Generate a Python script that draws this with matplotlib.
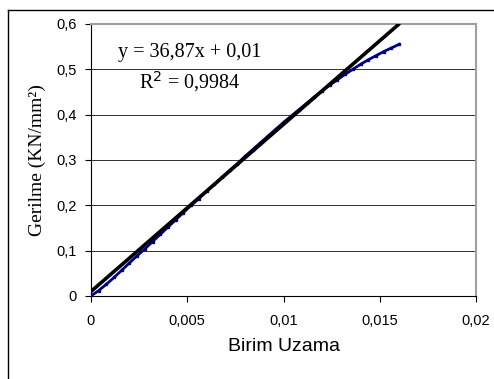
import matplotlib
matplotlib.use("Agg")
import matplotlib.pyplot as plt
from matplotlib.lines import Line2D

# measured points (birim uzama, gerilme)
strain = [0, 0.0004, 0.0008, 0.0012, 0.0016, 0.002, 0.0024, 0.0028, 0.0032, 0.0036,
          0.004, 0.0044, 0.0048, 0.0052, 0.0056, 0.006, 0.0064, 0.0068, 0.0072, 0.0076,
          0.008, 0.0084, 0.0088, 0.0092, 0.0096, 0.010, 0.0104, 0.0108, 0.0112, 0.0116,
          0.012, 0.0124, 0.0128, 0.0132, 0.0136, 0.014, 0.0144, 0.0148, 0.0152, 0.0156, 0.016]
stress = [0, 0.012, 0.026, 0.041, 0.057, 0.073, 0.089, 0.104, 0.120, 0.136,
          0.152, 0.168, 0.184, 0.200, 0.215, 0.231, 0.246, 0.262, 0.277, 0.292,
          0.308, 0.323, 0.338, 0.353, 0.368, 0.383, 0.397, 0.411, 0.425, 0.439,
          0.452, 0.465, 0.477, 0.489, 0.500, 0.511, 0.521, 0.530, 0.539, 0.547, 0.555]

# linear trendline
slope = 36.87
intercept = 0.01
trend_x = [0, 0.016]

xticks = [0, 0.005, 0.01, 0.015, 0.02]
xticklabels = ['0', '0,005', '0,01', '0,015', '0,02']
yticks = [0, 0.1, 0.2, 0.3, 0.4, 0.5, 0.6]
yticklabels = ['0', '0,1', '0,2', '0,3', '0,4', '0,5', '0,6']

fig = plt.figure(figsize=(4.94, 3.79), dpi=100)
ax = fig.add_axes([0.1842, 0.219, 0.7794, 0.7177])

ax.plot(strain, stress, color='#000080', linestyle='-', linewidth=2.0,
        marker='s', markersize=1.6, zorder=3)
ax.plot(trend_x, [slope * v + intercept for v in trend_x], color='black',
        linewidth=2.6, solid_capstyle='round', zorder=4)

ax.set_xlim(0, 0.02)
ax.set_ylim(0, 0.6)
ax.set_xticks(xticks)
ax.set_xticklabels(xticklabels, fontfamily='Liberation Sans', fontsize=10.5)
ax.set_yticks(yticks)
ax.set_yticklabels(yticklabels, fontfamily='Liberation Sans', fontsize=10.5)
ax.tick_params(direction='out', length=4, width=0.8, pad=6)
ax.tick_params(axis='x', pad=9)
ax.yaxis.grid(True, color='#303030', linewidth=0.7)
ax.set_axisbelow(True)

ax.spines['top'].set_color('#a0a0a0')
ax.spines['right'].set_color('#a0a0a0')
ax.spines['top'].set_linewidth(1.5)
ax.spines['right'].set_linewidth(1.5)
ax.spines['left'].set_linewidth(0.8)
ax.spines['bottom'].set_linewidth(0.8)

ax.set_xlabel('Birim Uzama', fontfamily='Liberation Sans', fontsize=14, labelpad=7)
ax.set_ylabel('Gerilme (KN/mm²)', fontfamily='Liberation Serif', fontsize=14, labelpad=8)

ax.text(0.00514, 0.538, 'y = 36,87x + 0,01', fontfamily='Liberation Serif', fontsize=14.5,
        ha='center', va='center')
ax.text(0.00514, 0.472, 'R$^2$ = 0,9984', fontfamily='Liberation Serif', fontsize=14.5,
        ha='center', va='center')

# outer chart frame
x0 = 8 / 494
y0 = 1 - 10 / 379
fig.add_artist(Line2D([x0, x0], [0, y0], color='black', linewidth=1.0, transform=fig.transFigure))
fig.add_artist(Line2D([x0, 1], [y0, y0], color='black', linewidth=1.0, transform=fig.transFigure))

plt.savefig('out.png', dpi=100)
